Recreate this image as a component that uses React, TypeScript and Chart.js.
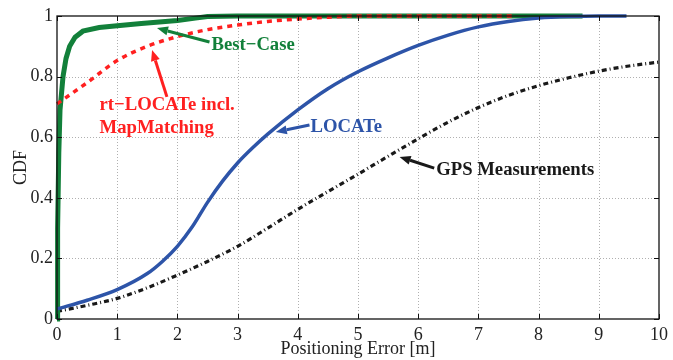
import React, { useEffect, useRef } from "react";
import { Chart, registerables } from "chart.js";

Chart.register(...registerables);

// ---- data ----
const xTickValues = [0, 1, 2, 3, 4, 5, 6, 7, 8, 9, 10];
const xTickLabels = ["0", "1", "2", "3", "4", "5", "6", "7", "8", "9", "10"];
const yTickValues = [0, 0.2, 0.4, 0.6, 0.8, 1];
const yTickLabels = ["0", "0.2", "0.4", "0.6", "0.8", "1"];

const bestX = [0, 0.01, 0.03, 0.05, 0.1, 0.15, 0.21, 0.3, 0.43, 0.7, 1.0, 1.4, 2.0, 2.3, 2.5, 3, 4, 5, 6, 7, 8, 8.73];
const bestY = [0, 0.3, 0.55, 0.69, 0.8, 0.86, 0.9, 0.93, 0.95, 0.962, 0.968, 0.975, 0.985, 0.993, 0.998, 1, 1, 1, 1, 1, 1, 1];

const rtX = [0, 0.25, 0.5, 1, 1.5, 2, 2.5, 3, 3.5, 4, 4.5, 5, 6, 7, 7.6];
const rtY = [0.71, 0.745, 0.78, 0.853, 0.9, 0.932, 0.955, 0.97, 0.982, 0.99, 0.996, 1, 1, 1, 1];

const locX = [0, 0.5, 1, 1.5, 1.75, 2, 2.25, 2.5, 2.75, 3, 3.25, 3.5, 4, 4.5, 5, 5.5, 6, 6.5, 7, 7.5, 8, 8.5, 9, 9.46];
const locY = [0.033, 0.062, 0.097, 0.15, 0.19, 0.24, 0.305, 0.385, 0.455, 0.515, 0.565, 0.61, 0.69, 0.76, 0.816, 0.862, 0.903, 0.937, 0.964, 0.982, 0.993, 0.998, 1, 1];

const gpsX = [0, 0.5, 1, 1.5, 2, 2.5, 3, 3.5, 4, 4.5, 5, 5.5, 6, 6.5, 7, 7.5, 8, 8.5, 9, 9.5, 10];
const gpsY = [0.025, 0.045, 0.068, 0.103, 0.145, 0.19, 0.24, 0.3, 0.362, 0.42, 0.478, 0.537, 0.595, 0.65, 0.698, 0.738, 0.77, 0.796, 0.818, 0.835, 0.848];

const GREEN = "rgb(18,128,58)";
const RED = "rgb(255,32,32)";
const BLUE = "rgb(45,84,168)";
const BLACK = "rgb(25,25,25)";

// annotations in data coordinates
const annotations = [
  { lines: ["Best\u2212Case"], color: GREEN, tx: 2.566, ty: 0.904, from: [2.533, 0.914], to: [1.661, 0.96] },
  { lines: ["rt\u2212LOCATe incl.", "MapMatching"], color: RED, tx: 0.707, ty: 0.706, from: [1.826, 0.733], to: [1.579, 0.888] },
  { lines: ["LOCATe"], color: BLUE, tx: 4.211, ty: 0.634, from: [4.194, 0.64], to: [3.635, 0.617] },
  { lines: ["GPS Measurements"], color: BLACK, tx: 6.299, ty: 0.492, from: [6.266, 0.498], to: [5.691, 0.535] },
];

const SERIF = '"Liberation Serif", "Times New Roman", serif';

const pts = (xs: number[], ys: number[]) => xs.map((x, i) => ({ x, y: ys[i] }));

const framePlugin = {
  id: "frame",
  beforeDatasetsDraw(chart: any) {
    const { ctx, chartArea: a, scales } = chart;
    const sx = scales.x, sy = scales.y;
    ctx.save();
    ctx.strokeStyle = "#b0b0b0";
    ctx.lineWidth = 1;
    ctx.setLineDash([1, 2]);
    for (const v of xTickValues) {
      if (v <= 0 || v >= 10) continue;
      const px = Math.round(sx.getPixelForValue(v)) + 0.5;
      ctx.beginPath();
      ctx.moveTo(px, a.top);
      ctx.lineTo(px, a.bottom);
      ctx.stroke();
    }
    for (const v of yTickValues) {
      if (v <= 0 || v >= 1) continue;
      const py = Math.round(sy.getPixelForValue(v)) + 0.5;
      ctx.beginPath();
      ctx.moveTo(a.left, py);
      ctx.lineTo(a.right, py);
      ctx.stroke();
    }
    ctx.restore();
  },
  afterDatasetsDraw(chart: any) {
    const { ctx, chartArea: a, scales } = chart;
    const sx = scales.x, sy = scales.y;
    ctx.save();
    ctx.setLineDash([]);
    ctx.strokeStyle = "#111";
    ctx.lineWidth = 1.3;
    ctx.strokeRect(a.left, a.top, a.right - a.left, a.bottom - a.top);
    const tl = 5;
    ctx.lineWidth = 1;
    for (const v of xTickValues) {
      const px = Math.round(sx.getPixelForValue(v)) + 0.5;
      ctx.beginPath();
      ctx.moveTo(px, a.bottom);
      ctx.lineTo(px, a.bottom - tl);
      ctx.moveTo(px, a.top);
      ctx.lineTo(px, a.top + tl);
      ctx.stroke();
    }
    for (const v of yTickValues) {
      const py = Math.round(sy.getPixelForValue(v)) + 0.5;
      ctx.beginPath();
      ctx.moveTo(a.left, py);
      ctx.lineTo(a.left + tl, py);
      ctx.moveTo(a.right, py);
      ctx.lineTo(a.right - tl, py);
      ctx.stroke();
    }

    // annotations
    for (const an of annotations) {
      ctx.fillStyle = an.color;
      ctx.strokeStyle = an.color;
      ctx.font = `bold 18.7px ${SERIF}`;
      ctx.textBaseline = "middle";
      ctx.textAlign = "left";
      const tx = sx.getPixelForValue(an.tx);
      const ty = sy.getPixelForValue(an.ty);
      an.lines.forEach((ln, i) => ctx.fillText(ln, tx, ty + i * 23));
      const x1 = sx.getPixelForValue(an.from[0]);
      const y1 = sy.getPixelForValue(an.from[1]);
      const x2 = sx.getPixelForValue(an.to[0]);
      const y2 = sy.getPixelForValue(an.to[1]);
      const ang = Math.atan2(y2 - y1, x2 - x1);
      const hl = 11, hw = 4.5;
      const bx = x2 - hl * Math.cos(ang);
      const by = y2 - hl * Math.sin(ang);
      ctx.lineWidth = 3;
      ctx.beginPath();
      ctx.moveTo(x1, y1);
      ctx.lineTo(bx, by);
      ctx.stroke();
      ctx.beginPath();
      ctx.moveTo(x2, y2);
      ctx.lineTo(bx + hw * Math.sin(ang), by - hw * Math.cos(ang));
      ctx.lineTo(bx - hw * Math.sin(ang), by + hw * Math.cos(ang));
      ctx.closePath();
      ctx.fill();
    }
    ctx.restore();
  },
};

export default function App() {
  const ref = useRef<HTMLCanvasElement>(null);
  useEffect(() => {
    document.body.style.margin = "0";
    const canvas = ref.current!;
    const chart = new Chart(canvas, {
      type: "line",
      data: {
        datasets: [
          {
            label: "LOCATe",
            data: pts(locX, locY),
            borderColor: BLUE,
            borderWidth: 3.5,
            cubicInterpolationMode: "monotone",
            clip: false,
          } as any,
          {
            label: "rt-LOCATe incl. MapMatching",
            data: pts(rtX, rtY),
            borderColor: RED,
            borderWidth: 3.5,
            borderDash: [5, 5],
            cubicInterpolationMode: "monotone",
            clip: false,
          },
          {
            label: "Best-Case",
            data: pts(bestX, bestY),
            borderColor: GREEN,
            borderWidth: 5,
            tension: 0,
            clip: false,
          },
          {
            label: "GPS Measurements",
            data: pts(gpsX, gpsY),
            borderColor: BLACK,
            borderWidth: 3.2,
            borderDash: [5, 3, 1, 3],
            cubicInterpolationMode: "monotone",
            clip: false,
          },
        ],
      },
      options: {
        responsive: false,
        animation: false,
        layout: { padding: { top: 16, right: 8, left: 0, bottom: 0 } },
        plugins: { legend: { display: false }, tooltip: { enabled: false } },
        elements: { point: { radius: 0 }, line: { borderCapStyle: "butt" } },
        scales: {
          x: {
            type: "linear",
            min: 0,
            max: 10,
            afterBuildTicks: (s: any) => {
              s.ticks = xTickValues.map((v) => ({ value: v }));
            },
            ticks: {
              callback: (_v: any, i: number) => xTickLabels[i],
              font: { family: SERIF, size: 18 },
              color: "#222",
              padding: 5,
              maxRotation: 0,
              autoSkip: false,
            },
            grid: { display: false, drawTicks: false },
            border: { display: false },
            title: {
              display: true,
              text: "Positioning Error [m]",
              font: { family: SERIF, size: 18 },
              color: "#222",
              padding: { top: 0, bottom: 0 },
            },
            afterFit: (s: any) => {
              s.height = 41;
            },
          },
          y: {
            type: "linear",
            min: 0,
            max: 1,
            afterBuildTicks: (s: any) => {
              s.ticks = yTickValues.map((v) => ({ value: v }));
            },
            ticks: {
              callback: (_v: any, i: number) => yTickLabels[i],
              font: { family: SERIF, size: 18 },
              color: "#222",
              padding: 4,
              autoSkip: false,
            },
            grid: { display: false, drawTicks: false },
            border: { display: false },
            title: {
              display: true,
              text: "CDF",
              font: { family: SERIF, size: 18 },
              color: "#222",
              padding: { top: 10, bottom: 0 },
            },
            afterFit: (s: any) => {
              s.width = 57;
            },
          },
        },
      },
      plugins: [framePlugin],
    });
    return () => chart.destroy();
  }, []);
  return <canvas ref={ref} width={673} height={360} style={{ display: "block" }} />;
}
